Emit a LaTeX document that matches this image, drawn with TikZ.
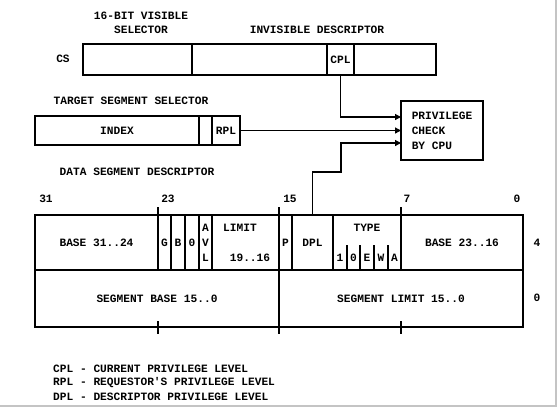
\documentclass[tikz,border=0pt]{standalone}
\usepackage{fontspec}
\setmonofont{Liberation Mono}
\usetikzlibrary{arrows.meta,positioning,calc}
\definecolor{edge}{HTML}{C4C4C4}

\begin{document}
\begin{tikzpicture}[x=1pt,y=-1pt,
lbl/.style={font=\ttfamily\bfseries\fontsize{11.2}{14}\selectfont,inner sep=0pt},
cell/.style={draw,line width=1.2pt,inner sep=0pt,outer sep=0pt,anchor=north west,font=\ttfamily\bfseries\fontsize{11.2}{15}\selectfont},
frame/.style={line width=2.8pt},
tick/.style={line width=1.2pt},
arr/.style={-{Triangle[length=6pt,width=6pt]},line width=1.3pt}
]
\useasboundingbox (0,0) rectangle (558,408);

% CS register
\node[lbl,align=center] (vislbl) at (141,23) {16-BIT VISIBLE\\SELECTOR};
\node[lbl] (invlbl) at (317,30) {INVISIBLE DESCRIPTOR};
\node[lbl] (cslbl) at (63,59) {CS};
\node[cell,line width=1.8pt,minimum width=109,minimum height=31] (vissel) at (83,44) {};
\node[cell,line width=1.8pt,minimum width=135,minimum height=31] (invdesc) at (192,44) {};
\node[cell,line width=1.8pt,minimum width=27,minimum height=31] (cpl) at (327,44) {CPL};
\node[cell,line width=1.8pt,minimum width=82,minimum height=31] (invrest) at (354,44) {};
\draw[frame] (vissel.north west) rectangle (invrest.south east);

% target selector
\node[lbl] (tgtlbl) at (131,101) {TARGET SEGMENT SELECTOR};
\node[cell,minimum width=164,minimum height=29] (index) at (35,116) {INDEX};
\node[cell,minimum width=13,minimum height=29] (tgtgap) at (199,116) {};
\node[cell,minimum width=28,minimum height=29] (rpl) at (212,116) {RPL};
\draw[frame] (index.north west) rectangle (rpl.south east);

% privilege check
\node[cell,frame,minimum width=82,minimum height=59,align=left] (check) at (401,101) {PRIVILEGE\\CHECK\\BY CPU};

% data segment descriptor
\node[lbl] (desclbl) at (137,172) {DATA SEGMENT DESCRIPTOR};
\node[lbl] (b31) at (46,199) {31};
\node[lbl] (b23) at (168,199) {23};
\node[lbl] (b15) at (290,199) {15};
\node[lbl] (b7) at (407,199) {7};
\node[lbl] (b0) at (517,199) {0};

\node[cell,minimum width=123,minimum height=55] (base3124) at (35,215) {BASE 31..24};
\node[cell,minimum width=13,minimum height=55] (gbit) at (158,215) {G};
\node[cell,minimum width=14,minimum height=55] (bbit) at (171,215) {B};
\node[cell,minimum width=14,minimum height=55] (zbit) at (185,215) {0};
\node[cell,minimum width=13,minimum height=55,align=center] (avl) at (199,215) {A\\V\\L};
\node[cell,minimum width=67,minimum height=55] (limit) at (212,215) {};
\node[cell,minimum width=13,minimum height=55] (pbit) at (279,215) {P};
\node[cell,minimum width=41,minimum height=55] (dpl) at (292,215) {DPL};
\node[cell,minimum width=68,minimum height=55] (type) at (333,215) {};
\node[cell,minimum width=122,minimum height=55] (base2316) at (401,215) {BASE 23..16};
\node[cell,minimum width=244,minimum height=57] (segbase) at (35,270) {SEGMENT BASE 15..0};
\node[cell,minimum width=244,minimum height=57] (seglim) at (279,270) {SEGMENT LIMIT 15..0};
\draw[frame] (base3124.north west) rectangle (seglim.south east);

\node[lbl] (limlbl) at (240,228) {LIMIT};
\node[lbl] (limbits) at (250,258) {19..16};
\node[lbl] (typelbl) at (367,228) {TYPE};
\node[lbl] (tone) at (340,258) {1};
\node[lbl] (tzero) at (353.5,258) {0};
\node[lbl] (tE) at (367,258) {E};
\node[lbl] (tW) at (381,258) {W};
\node[lbl] (tA) at (394.5,258) {A};
\draw[tick] (347,245) -- (347,270) (360,245) -- (360,270)
  (374,245) -- (374,270) (388,245) -- (388,270);

\draw[tick] (158,207) -- (158,215) (279,207) -- (279,215) (401,207) -- (401,215);
\draw[tick] (158,321) -- (158,334) (279,321) -- (279,334) (401,321) -- (401,334);

\node[lbl] (row4) at (537,243) {4};
\node[lbl] (row0) at (537,298) {0};

% privilege inputs
\coordinate (dplbend) at (341,172);
\draw[arr] (cpl.south) |- ($(check.west)+(0,-13.5)$);
\draw[arr] (rpl.east) -- (check.west);
\draw[arr] (dpl.north) |- (dplbend) |- ($(check.west)+(0,12.5)$);

% legend
\node[lbl,anchor=west] (legcpl) at (53,369) {CPL - CURRENT PRIVILEGE LEVEL};
\node[lbl,anchor=west] (legrpl) at (53,383) {RPL - REQUESTOR'S PRIVILEGE LEVEL};
\node[lbl,anchor=west] (legdpl) at (53,397) {DPL - DESCRIPTOR PRIVILEGE LEVEL};

\draw[edge,line width=2pt] (0,406) -- (556,406) -- (556,0);
\end{tikzpicture}
\end{document}
